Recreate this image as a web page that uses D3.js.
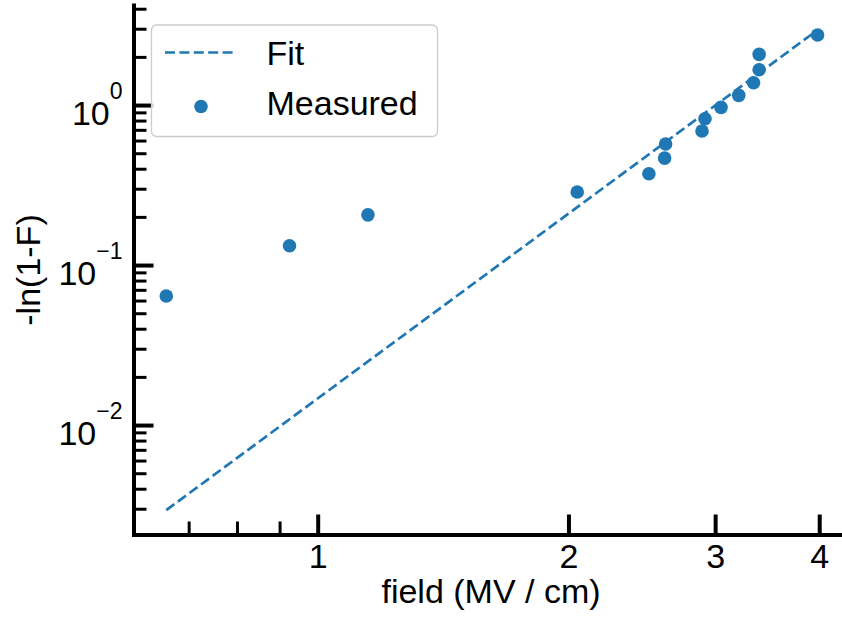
<!DOCTYPE html>
<html>
<head>
<meta charset="utf-8">
<script src="https://cdn.jsdelivr.net/npm/d3@7"></script>
<style>
  body { margin: 0; background: #fff; }
  svg { display: block; font-family: "Liberation Sans", Arial, sans-serif; }
</style>
</head>
<body>
<div class="chart"></div>
<script>
// measured points, field in MV/cm and -ln(1-F)
var fieldValues = [0.658, 0.925, 1.149, 2.049, 2.498, 2.609, 2.616, 2.893, 2.917, 3.049, 3.202, 3.336, 3.388, 3.388, 3.982];
var failValues = [0.0640, 0.132, 0.206, 0.286, 0.372, 0.466, 0.571, 0.688, 0.821, 0.967, 1.150, 1.379, 1.662, 2.074, 2.738];

// fit line end points
var fitField = [0.658, 3.98];
var fitFail = [0.00294, 2.94];

// tick labels
var xTickLabels = [1, 2, 3, 4];
var yTickExponents = [-2, -1, 0];
var legendNames = ["Fit", "Measured"];

(function () {

  var width = 842, height = 617;
  var blue = "#1f77b4";
  var fontSize = 34;

  var svg = d3.select(".chart")
    .append("svg")
    .attr("width", width)
    .attr("height", height);

  // log scales (axis runs off the right edge like the original)
  var x = d3.scaleLog().domain([0.601, 4.26]).range([133.5, 842]);
  var y = d3.scaleLog().domain([0.00207, 4.22]).range([534.5, 5]);

  var isMajor = function (d) { return Math.abs(Math.log10(d) - Math.round(Math.log10(d))) < 1e-9; };

  var xMinor = x.ticks().filter(function (d) { return xTickLabels.indexOf(d) < 0; });
  var yMajor = yTickExponents.map(function (e) { return Math.pow(10, e); });
  var yMinor = y.ticks().filter(function (d) { return !isMajor(d); });

  // x axis, minor ticks first
  var xMinorG = svg.append("g")
    .attr("transform", "translate(0," + 534.5 + ")")
    .call(d3.axisBottom(x).tickValues(xMinor).tickSizeInner(-13).tickSizeOuter(0).tickFormat(""));
  xMinorG.select(".domain").remove();
  xMinorG.selectAll(".tick line").attr("stroke-width", 3);

  var xMajorG = svg.append("g")
    .attr("transform", "translate(0," + 534.5 + ")")
    .call(d3.axisBottom(x).tickValues(xTickLabels).tickSizeInner(-20).tickSizeOuter(0).tickPadding(9)
      .tickFormat(d3.format("d")));
  xMajorG.select(".domain").attr("stroke-width", 4).attr("stroke-linecap", "square");
  xMajorG.selectAll(".tick line").attr("stroke-width", 4);
  xMajorG.selectAll(".tick text")
    .attr("font-size", fontSize)
    .attr("font-family", null)
    .attr("fill", "#000");

  // y axis
  var yMinorG = svg.append("g")
    .attr("transform", "translate(" + 133.5 + ",0)")
    .call(d3.axisLeft(y).tickValues(yMinor).tickSizeInner(-13).tickSizeOuter(0).tickFormat(""));
  yMinorG.select(".domain").remove();
  yMinorG.selectAll(".tick line").attr("stroke-width", 3);

  var yMajorG = svg.append("g")
    .attr("transform", "translate(" + 133.5 + ",0)")
    .call(d3.axisLeft(y).tickValues(yMajor).tickSizeInner(-20).tickSizeOuter(0).tickPadding(11));
  yMajorG.select(".domain").attr("stroke-width", 4).attr("stroke-linecap", "square");
  yMajorG.selectAll(".tick line").attr("stroke-width", 4);

  // 10^n labels with superscript
  yMajorG.selectAll(".tick text")
    .attr("font-family", null)
    .attr("font-size", fontSize)
    .attr("fill", "#000")
    .attr("dy", null)
    .attr("y", 19)
    .text(null)
    .each(function (d) {
      var t = d3.select(this);
      var e = Math.round(Math.log10(d));
      t.append("tspan").text("10");
      t.append("tspan")
        .attr("font-size", 23)
        .attr("dy", -26)
        .text(e < 0 ? "\u2212" + (-e) : String(e));
    });

  // fit line
  var fitData = d3.zip(fitField, fitFail);
  var line = d3.line()
    .x(function (d) { return x(d[0]); })
    .y(function (d) { return y(d[1]); });

  svg.append("path")
    .datum(fitData)
    .attr("d", line)
    .attr("fill", "none")
    .attr("stroke", blue)
    .attr("stroke-width", 2.7)
    .attr("stroke-dasharray", "10,4.4");

  // measured points
  svg.append("g")
    .selectAll("circle")
    .data(d3.zip(fieldValues, failValues))
    .enter()
    .append("circle")
    .attr("cx", function (d) { return x(d[0]); })
    .attr("cy", function (d) { return y(d[1]); })
    .attr("r", 6.8)
    .attr("fill", blue);

  // axis titles
  svg.append("text")
    .attr("x", 491)
    .attr("y", 603)
    .attr("text-anchor", "middle")
    .attr("font-size", fontSize)
    .text("field (MV / cm)");

  svg.append("text")
    .attr("transform", "translate(40,270) rotate(-90)")
    .attr("text-anchor", "middle")
    .attr("font-size", fontSize)
    .text("-ln(1-F)");

  // legend
  var legend = svg.append("g");
  legend.append("rect")
    .attr("x", 151.5)
    .attr("y", 25)
    .attr("width", 286)
    .attr("height", 111.5)
    .attr("rx", 5)
    .attr("fill", "#fff")
    .attr("fill-opacity", 0.8)
    .attr("stroke", "#cccccc")
    .attr("stroke-width", 1.3);

  legend.append("line")
    .attr("x1", 165).attr("x2", 237)
    .attr("y1", 52.5).attr("y2", 52.5)
    .attr("stroke", blue)
    .attr("stroke-width", 2.7)
    .attr("stroke-dasharray", "10,4.4");

  legend.append("circle")
    .attr("cx", 201)
    .attr("cy", 106.5)
    .attr("r", 6.8)
    .attr("fill", blue);

  legend.selectAll(".label")
    .data(legendNames)
    .enter()
    .append("text")
    .attr("class", "label")
    .attr("x", 266.5)
    .attr("y", function (d, i) { return 65 + i * 49.5; })
    .attr("font-size", fontSize)
    .text(function (d) { return d; });

})();
</script>
</body>
</html>
